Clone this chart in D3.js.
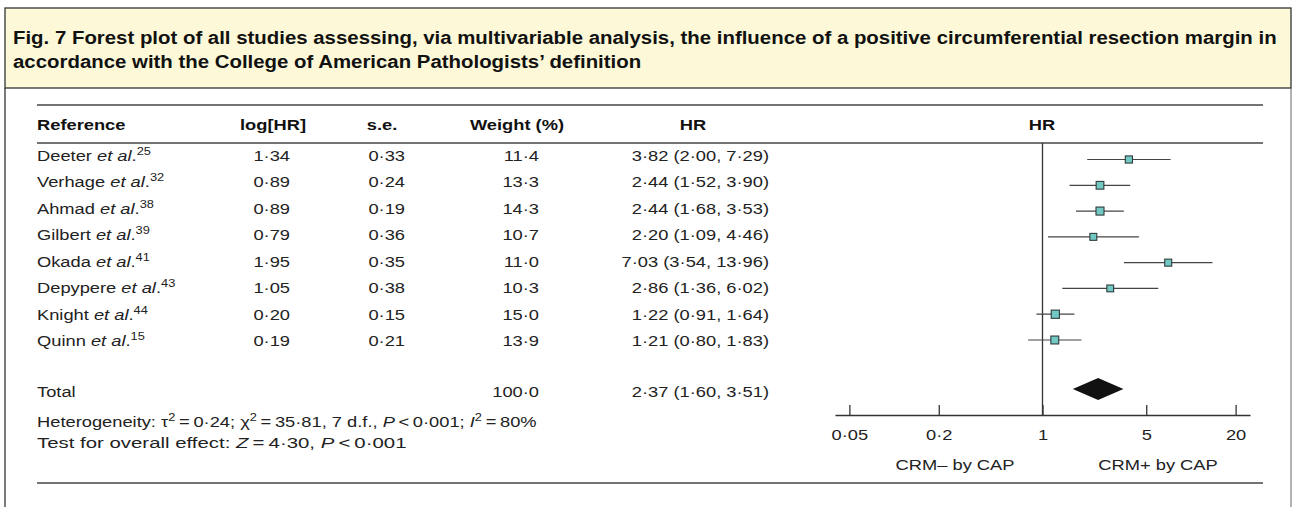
<!DOCTYPE html>
<html>
<head>
<meta charset="utf-8">
<script src="https://cdn.jsdelivr.net/npm/d3@7"></script>
<style>
  body { margin: 0; background: #fff; }
  svg { font-family: "Liberation Sans", Arial, Helvetica, sans-serif; }
</style>
</head>
<body>
<svg id="chart" width="1294" height="507"></svg>
<script>
// study data
var authors  = ["Deeter", "Verhage", "Ahmad", "Gilbert", "Okada", "Depypere", "Knight", "Quinn"];
var refNums  = [25, 32, 38, 39, 41, 43, 44, 15];
var logHR    = [1.34, 0.89, 0.89, 0.79, 1.95, 1.05, 0.20, 0.19];
var stdErr   = [0.33, 0.24, 0.19, 0.36, 0.35, 0.38, 0.15, 0.21];
var weights  = [11.4, 13.3, 14.3, 10.7, 11.0, 10.3, 15.0, 13.9];
var hr       = [3.82, 2.44, 2.44, 2.20, 7.03, 2.86, 1.22, 1.21];
var hrLow    = [2.00, 1.52, 1.68, 1.09, 3.54, 1.36, 0.91, 0.80];
var hrHigh   = [7.29, 3.90, 3.53, 4.46, 13.96, 6.02, 1.64, 1.83];
var totalHR  = [2.37, 1.60, 3.51];   // estimate, lower, upper
var totalWeight = 100.0;
var axisTicks = [0.05, 0.2, 1, 5, 20];

var svg = d3.select("#chart");
var ink = "#333";
var fs = 15, sx = 1.22;   // the original type is set wide

function dot(s) { return s.replace(/\./g, "\u00b7"); }
var f2 = function(v) { return dot(d3.format(".2f")(v)); };
var f1 = function(v) { return dot(d3.format(".1f")(v)); };

// text placed at x,y and stretched horizontally
function label(parent, x, y, anchor, scale) {
  return parent.append("text")
    .attr("transform", "translate(" + x + "," + y + ") scale(" + (scale || sx) + ",1)")
    .attr("text-anchor", anchor || "start");
}

// frame + caption box
svg.append("rect").attr("x", 5).attr("y", 8).attr("width", 1286).attr("height", 80)
  .attr("fill", "#fdf9d8").attr("stroke", ink).attr("stroke-width", 1.3);
svg.append("line").attr("x1", 5).attr("x2", 5).attr("y1", 88).attr("y2", 507).attr("stroke", ink).attr("stroke-width", 1.3);
svg.append("line").attr("x1", 1291).attr("x2", 1291).attr("y1", 88).attr("y2", 507).attr("stroke", "#666").attr("stroke-width", 1);

var cap = svg.append("g").attr("font-weight", "bold").attr("font-size", 19).attr("fill", "#111");
label(cap, 13, 44, "start", 1.074)
  .text("Fig. 7 Forest plot of all studies assessing, via multivariable analysis, the influence of a positive circumferential resection margin in");
label(cap, 13, 68, "start", 1.074)
  .text("accordance with the College of American Pathologists\u2019 definition");

// rules
[105, 143, 483].forEach(function(y) {
  svg.append("line").attr("x1", 37).attr("x2", 1263).attr("y1", y).attr("y2", y)
    .attr("stroke", "#444").attr("stroke-width", 1.4);
});

// column positions
var colRef = 37, colLog = 290, colSe = 405, colW = 539, colHR = 769;

var head = svg.append("g").attr("font-weight", "bold").attr("font-size", fs).attr("fill", "#111");
label(head, colRef, 130).text("Reference");
label(head, 273, 130, "middle").text("log[HR]");
label(head, 382, 130, "middle").text("s.e.");
label(head, 517, 130, "middle").text("Weight (%)");
label(head, 693, 130, "middle").text("HR");
label(head, 1042, 130, "middle").text("HR");

// row scales
var idx = d3.range(authors.length);
var yText = d3.scaleLinear().domain([0, 7]).range([160.5, 346]);
var yPlot = d3.scaleLinear().domain([0, 7]).range([159.5, 340]);

var rows = svg.append("g").attr("font-size", fs).attr("fill", "#222")
  .selectAll("g").data(idx).enter().append("g");

rows.each(function(i) {
  var g = d3.select(this);
  var y = yText(i);
  var t = label(g, colRef, y);
  t.append("tspan").text(authors[i] + " ");
  t.append("tspan").attr("font-style", "italic").text("et al");
  t.append("tspan").text(".");
  t.append("tspan").attr("font-size", 10.5).attr("dy", -6).text(refNums[i]);
  label(g, colLog, y, "end").text(f2(logHR[i]));
  label(g, colSe, y, "end").text(f2(stdErr[i]));
  label(g, colW, y, "end").text(f1(weights[i]));
  label(g, colHR, y, "end").text(f2(hr[i]) + " (" + f2(hrLow[i]) + ", " + f2(hrHigh[i]) + ")");
});

// total row
var tot = svg.append("g").attr("font-size", fs).attr("fill", "#222");
label(tot, colRef, 396.5).text("Total");
label(tot, colW, 396.5, "end").text(f1(totalWeight));
label(tot, colHR, 396.5, "end").text(f2(totalHR[0]) + " (" + f2(totalHR[1]) + ", " + f2(totalHR[2]) + ")");

// heterogeneity + overall effect
function part(el, txt, opt) {
  var s = el.append("tspan").text(txt);
  if (opt === "i") s.attr("font-style", "italic");
  if (opt === "sup") s.attr("font-size", 10.5).attr("dy", -6);
  if (opt === "down") s.attr("dy", 6);
  return s;
}
var het = label(tot, colRef, 426.5);
part(het, "Heterogeneity: \u03c4");
part(het, "2", "sup");
part(het, "\u2009=\u20090\u00b724; \u03c7", "down");
part(het, "2", "sup");
part(het, "\u2009=\u200935\u00b781, 7 d.f., ", "down");
part(het, "P", "i");
part(het, "\u2009<\u20090\u00b7001; ");
part(het, "I", "i");
part(het, "2", "sup");
part(het, "\u2009=\u200980%", "down");

var zt = label(tot, colRef, 448, "start", 1.36);
part(zt, "Test for overall effect: ");
part(zt, "Z", "i");
part(zt, "\u2009=\u20094\u00b730, ");
part(zt, "P", "i");
part(zt, "\u2009<\u20090\u00b7001");

// forest plot
var x = d3.scaleLog().domain([0.04, 25]).range([835, 1250]);
var axisY = 415;

svg.append("line").attr("x1", x(1)).attr("x2", x(1)).attr("y1", 143).attr("y2", axisY)
  .attr("stroke", ink).attr("stroke-width", 1.3);

var size = d3.scaleSqrt().domain([0, 15]).range([0, 8.2]);

var plot = svg.append("g");
plot.selectAll("line.ci").data(idx).enter().append("line")
  .attr("class", "ci")
  .attr("x1", function(i) { return x(hrLow[i]); })
  .attr("x2", function(i) { return x(hrHigh[i]); })
  .attr("y1", function(i) { return yPlot(i); })
  .attr("y2", function(i) { return yPlot(i); })
  .attr("stroke", "#444").attr("stroke-width", 1.2);

plot.selectAll("rect.pt").data(idx).enter().append("rect")
  .attr("class", "pt")
  .attr("x", function(i) { return x(hr[i]) - size(weights[i]) / 2; })
  .attr("y", function(i) { return yPlot(i) - size(weights[i]) / 2; })
  .attr("width", function(i) { return size(weights[i]); })
  .attr("height", function(i) { return size(weights[i]); })
  .attr("fill", "#72c9c3").attr("stroke", "#2f3b3b").attr("stroke-width", 1.1);

var dy = 389, dh = 11;
plot.append("path")
  .attr("d", "M" + x(totalHR[1]) + "," + dy + "L" + x(totalHR[0]) + "," + (dy - dh) +
             "L" + x(totalHR[2]) + "," + dy + "L" + x(totalHR[0]) + "," + (dy + dh) + "Z")
  .attr("fill", "#111");

var ax = svg.append("g").attr("transform", "translate(0," + axisY + ")")
  .call(d3.axisBottom(x).tickValues(axisTicks).tickSizeInner(-10).tickSizeOuter(0).tickPadding(14)
    .tickFormat(function(d) { return dot(String(d)); }));
ax.select(".domain").attr("stroke", ink).attr("stroke-width", 1.3);
ax.selectAll(".tick line").attr("stroke", ink).attr("stroke-width", 1.3);
ax.selectAll(".tick text").attr("font-size", fs).attr("fill", "#222")
  .attr("font-family", "Liberation Sans, Arial, sans-serif")
  .attr("transform", "scale(" + sx + ",1)");

var crm = svg.append("g").attr("font-size", fs).attr("fill", "#222");
label(crm, 955, 470, "middle").text("CRM\u2013 by CAP");
label(crm, 1158, 470, "middle").text("CRM+ by CAP");
</script>
</body>
</html>
